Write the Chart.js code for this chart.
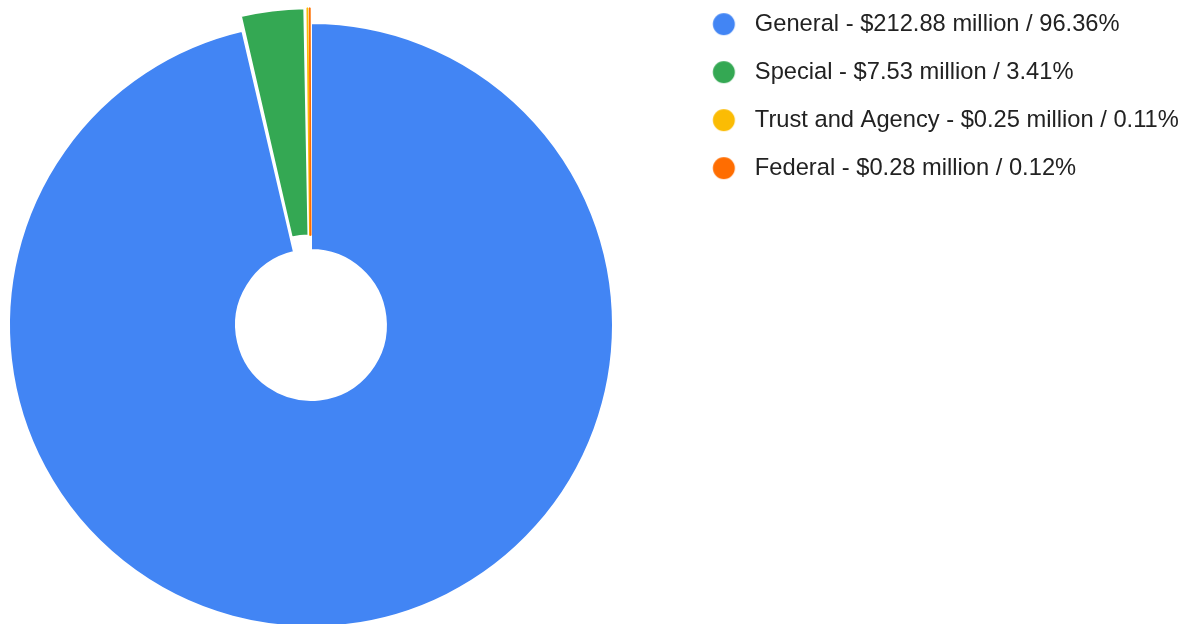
<!DOCTYPE html>
<html>
<head>
<meta charset="utf-8">
<title>Funds</title>
<script src="https://cdn.jsdelivr.net/npm/chart.js@4/dist/chart.umd.min.js"></script>
<style>
  html, body { margin: 0; padding: 0; background: #fff; overflow: hidden; width: 1193px; height: 624px; }
  #wrap { position: absolute; left: -73px; top: -12px; }
</style>
</head>
<body>
<div id="wrap"><canvas id="fundChart" height="674"></canvas></div>
<script>
// fund sources, amounts in $ millions
const funds = ["General", "Special", "Trust and Agency", "Federal"];
const amounts = [212.88, 7.53, 0.25, 0.28];
const shares = [96.36, 3.41, 0.11, 0.12];
const colors = ["#4285F4", "#34A853", "#FBBC04", "#FF6D01"];
// small slices are pulled out; the thin ones get a stroke in their own colour
const pulled = [0, 33, 30, 30];
const edgeColors = ["#ffffff", "#ffffff", "#FBBC04", "#FF6D01"];
const edgeWidths = [2, 2, 1.8, 1.8];

const fontSize = 23.7;
const fontFamily = "'Liberation Sans', Arial, sans-serif";
const itemPad = 24.3;
const chartPart = 768; // width left of the legend

// legend dot, drawn left of the box centre so the gap to the text matches
function dot(color) {
  const c = document.createElement("canvas");
  c.width = 44;
  c.height = 24;
  const g = c.getContext("2d");
  g.fillStyle = color;
  g.beginPath();
  g.arc(14.7, 12, 11, 0, Math.PI * 2);
  g.fill();
  return c;
}
const dots = colors.map(dot);

const labels = funds.map((f, i) =>
  f + " - $" + amounts[i].toFixed(2) + " million / " + shares[i].toFixed(2) + "%");

// size the canvas so the legend starts right where the chart part ends
const probe = document.createElement("canvas").getContext("2d");
probe.font = fontSize + "px " + fontFamily;
const textW = Math.max(...labels.map((l) => probe.measureText(l).width));
const legendW = itemPad + fontSize + fontSize / 2 + textW + 10;
const canvasW = Math.ceil(chartPart + legendW) + 2;

const ctx = document.getElementById("fundChart");
ctx.width = canvasW;
new Chart(ctx, {
  type: "doughnut",
  data: {
    labels: labels,
    datasets: [
      {
        data: amounts,
        backgroundColor: colors,
        borderColor: edgeColors,
        borderWidth: edgeWidths,
        offset: pulled,
      },
    ],
  },
  options: {
    responsive: false,
    animation: false,
    radius: 302,
    cutout: "24.8%",
    layout: {
      padding: { left: 0, right: canvasW - chartPart - legendW, top: 0, bottom: 0 },
    },
    plugins: {
      tooltip: { enabled: false },
      legend: {
        position: "right",
        align: "start",
        labels: {
          usePointStyle: true,
          padding: itemPad,
          color: "#222222",
          font: { family: fontFamily, size: fontSize },
          generateLabels: (chart) => {
            const items = Chart.overrides.doughnut.plugins.legend.labels.generateLabels(chart);
            return items.map((it, i) => Object.assign(it, { pointStyle: dots[i] }));
          },
        },
      },
    },
  },
});
</script>
</body>
</html>
